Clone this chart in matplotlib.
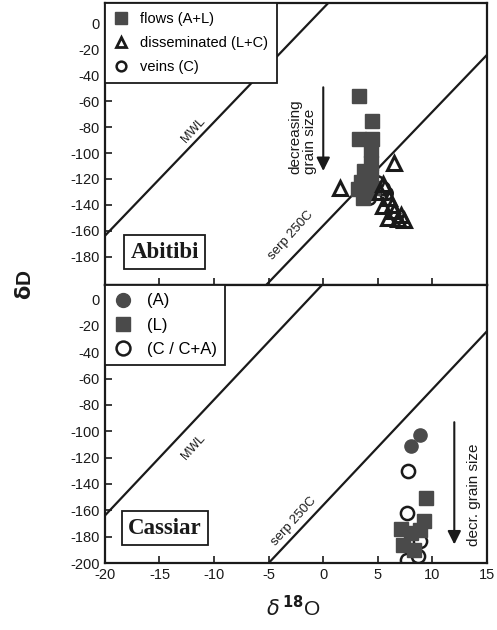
import numpy as np
import matplotlib.pyplot as plt
from matplotlib.lines import Line2D

plt.rcParams['font.family'] = ['Liberation Sans', 'DejaVu Sans']
plt.rcParams['axes.unicode_minus'] = False

# Abitibi samples (d18O, dD)
ab_flows_x = [3.3, 4.5, 3.3, 4.5, 4.4, 4.4, 3.7, 4.4, 3.5, 3.2, 4.1, 4.6, 3.6]
ab_flows_y = [-56, -75, -89, -89, -98, -108, -114, -118, -122, -128, -131, -127, -135]
ab_dissem_x = [6.5, 1.5, 5.5, 6.0, 5.5, 6.5, 7.1, 5.9, 6.8, 7.4, 5.2, 6.3]
ab_dissem_y = [-108, -127, -124, -135, -141, -145, -148, -150, -151, -152, -130, -140]
ab_veins_x = [4.4, 5.7, 4.2, 5.5, 4.9]
ab_veins_y = [-114, -131, -135, -127, -122]

# Cassiar samples (d18O, dD)
cs_a_x = [8.0, 8.9]
cs_a_y = [-111, -103]
cs_l_x = [9.4, 9.2, 7.1, 8.0, 7.3, 8.3, 8.9]
cs_l_y = [-151, -168, -174, -177, -186, -190, -175]
cs_c_x = [7.8, 7.7, 7.7, 8.7, 8.9]
cs_c_y = [-130, -162, -198, -195, -183]

# reference lines: dD = slope * d18O + intercept
LINE_SLOPE = 8.8
MWL_INTERCEPT = 12
SERP_INTERCEPT = -156

X_TICKS = [-20, -15, -10, -5, 0, 5, 10, 15]
AB_YTICKS = [0, -20, -40, -60, -80, -100, -120, -140, -160, -180]
CS_YTICKS = [0, -20, -40, -60, -80, -100, -120, -140, -160, -180, -200]

SQ = '#4a4a4a'
ink = '#1a1a1a'
SERIF = ['Liberation Serif', 'DejaVu Serif']

fig = plt.figure(figsize=(4.97, 6.30), dpi=100)
ax1 = fig.add_axes([0.211, 0.5476, 0.769, 0.4476])
ax2 = fig.add_axes([0.211, 0.1063, 0.769, 0.4413])

xs = np.array([-20, 15])
for ax, ylim in ((ax1, (-202, 16)), (ax2, (-200, 11))):
    ax.plot(xs, LINE_SLOPE * xs + MWL_INTERCEPT, color=ink, lw=1.6, zorder=1)
    ax.plot(xs, LINE_SLOPE * xs + SERP_INTERCEPT, color=ink, lw=1.6, zorder=1)
    ax.set_xlim(-20, 15)
    ax.set_ylim(*ylim)
    ax.set_xticks(X_TICKS)
    ax.tick_params(direction='in', length=5, width=1.2, labelsize=10.5,
                   colors=ink)
    for s in ax.spines.values():
        s.set_linewidth(1.6)
        s.set_color(ink)

ax1.set_yticks(AB_YTICKS)
ax1.tick_params(labelbottom=False)
ax2.set_yticks(CS_YTICKS)

# --- Abitibi ---
ax1.plot(ab_veins_x, ab_veins_y, 'o', ms=9, mfc='white', mec=ink, mew=1.8,
         ls='none', zorder=2)
ax1.plot(ab_flows_x, ab_flows_y, 's', ms=9.5, mfc=SQ, mec=SQ, ls='none', zorder=3)
ax1.plot(ab_dissem_x, ab_dissem_y, '^', ms=10, mfc='none', mec=ink, mew=2.2,
         ls='none', zorder=3)

h1 = [Line2D([], [], marker='s', ms=8, mfc=SQ, mec=SQ, ls='none'),
      Line2D([], [], marker='^', ms=7, mfc='none', mec=ink, mew=2.0, ls='none'),
      Line2D([], [], marker='o', ms=7, mfc='none', mec=ink, mew=1.8, ls='none')]
leg1 = ax1.legend(h1, ['flows (A+L)', 'disseminated (L+C)', 'veins (C)'],
                  loc='upper left', bbox_to_anchor=(0, 1), borderaxespad=0,
                  frameon=True, fancybox=False, framealpha=1, edgecolor=ink,
                  fontsize=10.5, handlelength=1.0, handletextpad=0.8,
                  labelspacing=0.7, borderpad=0.6)
leg1.get_frame().set_linewidth(1.3)

ax1.annotate('', xy=(0, -116), xytext=(0, -47),
             arrowprops=dict(arrowstyle='-|>', color=ink, lw=1.5,
                             mutation_scale=20))
ax1.text(-1.9, -116, 'decreasing\ngrain size', rotation=90, ha='center',
         va='bottom', multialignment='left', fontsize=11, color=ink,
         linespacing=1.0)
ax1.text(-11.9, -82, 'MWL', rotation=48, ha='center', va='center',
         fontsize=9, color=ink)
ax1.text(-3.0, -164, 'serp 250C', rotation=48, ha='center', va='center',
         fontsize=9.5, color=ink)
ax1.text(0.157, 0.117, 'Abitibi', transform=ax1.transAxes, ha='center',
         va='center', fontsize=16.5, fontweight='bold', family=SERIF,
         color=ink,
         bbox=dict(boxstyle='square,pad=0.28', fc='white', ec=ink, lw=1.3))

# --- Cassiar ---
ax2.plot(cs_a_x, cs_a_y, 'o', ms=9.5, mfc=SQ, mec=SQ, ls='none', zorder=3)
ax2.plot(cs_c_x, cs_c_y, 'o', ms=9.5, mfc='white', mec=ink, mew=1.8,
         ls='none', zorder=2)
ax2.plot(cs_l_x, cs_l_y, 's', ms=9.5, mfc=SQ, mec=SQ, ls='none', zorder=3)

h2 = [Line2D([], [], marker='o', ms=10, mfc=SQ, mec=SQ, ls='none'),
      Line2D([], [], marker='s', ms=10, mfc=SQ, mec=SQ, ls='none'),
      Line2D([], [], marker='o', ms=10, mfc='none', mec=ink, mew=1.8, ls='none')]
leg2 = ax2.legend(h2, ['(A)', '(L)', '(C / C+A)'],
                  loc='upper left', bbox_to_anchor=(0, 1), borderaxespad=0,
                  frameon=True, fancybox=False, framealpha=1, edgecolor=ink,
                  fontsize=12, handlelength=1.2, handletextpad=0.8,
                  labelspacing=0.55, borderpad=0.5)
leg2.get_frame().set_linewidth(1.3)

ax2.annotate('', xy=(12.0, -188), xytext=(12.0, -91),
             arrowprops=dict(arrowstyle='-|>', color=ink, lw=1.5,
                             mutation_scale=20))
ax2.text(13.8, -148, 'decr. grain size', rotation=90, ha='center',
         va='center', fontsize=11, color=ink)
ax2.text(-11.9, -112, 'MWL', rotation=48, ha='center', va='center',
         fontsize=9, color=ink)
ax2.text(-2.7, -168, 'serp 250C', rotation=48, ha='center', va='center',
         fontsize=9.5, color=ink)
ax2.text(0.157, 0.126, 'Cassiar', transform=ax2.transAxes, ha='center',
         va='center', fontsize=16.5, fontweight='bold', family=SERIF,
         color=ink,
         bbox=dict(boxstyle='square,pad=0.28', fc='white', ec=ink, lw=1.3))

fig.text(0.05, 0.548, r'$\mathbf{\delta}$D', rotation=90, ha='center',
         va='center', fontsize=15, fontweight='bold', color=ink)
fig.text(0.59, 0.035, r'$\delta^{\,\mathbf{18}}$O', ha='center', va='center',
         fontsize=15, color=ink)

fig.savefig('out.png', dpi=100)
